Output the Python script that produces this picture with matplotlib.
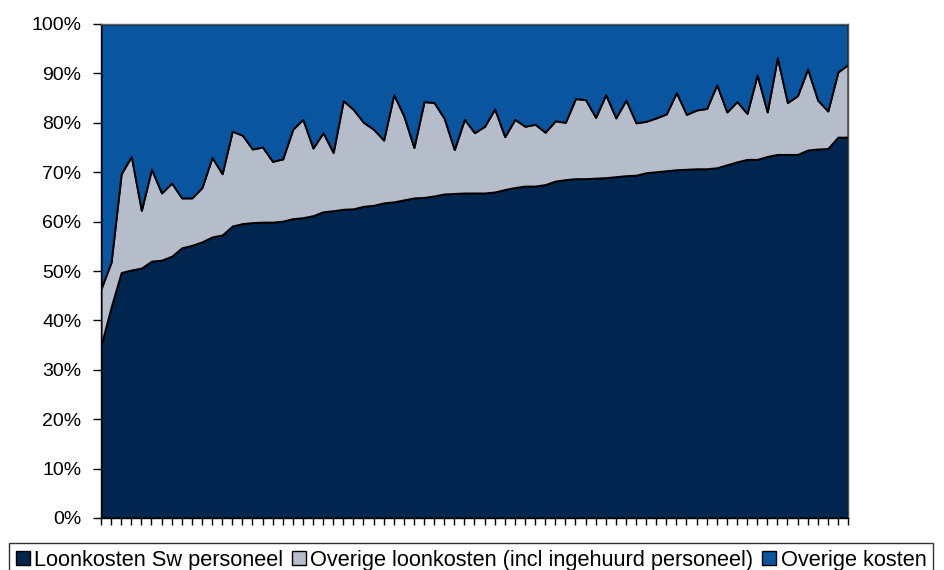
import matplotlib
matplotlib.use("Agg")
import matplotlib.pyplot as plt
import numpy as np
from matplotlib.ticker import FuncFormatter

plt.rcParams['font.family'] = ['Liberation Sans', 'DejaVu Sans']

series_names = ["Loonkosten Sw personeel",
                "Overige loonkosten (incl ingehuurd personeel)",
                "Overige kosten"]

loonkosten_sw = [34.9, 42.7, 49.7, 50.2, 50.6, 52.0, 52.2, 53.0, 54.7, 55.2,
                 55.9, 56.9, 57.3, 59.1, 59.6, 59.8, 59.9, 59.9, 60.1, 60.6,
                 60.8, 61.2, 62.0, 62.2, 62.5, 62.6, 63.1, 63.3, 63.8, 64.0,
                 64.4, 64.8, 64.9, 65.2, 65.6, 65.7, 65.8, 65.8, 65.8, 66.0,
                 66.5, 66.9, 67.2, 67.2, 67.5, 68.2, 68.5, 68.7, 68.7, 68.8,
                 68.9, 69.1, 69.3, 69.4, 69.9, 70.1, 70.3, 70.5, 70.6, 70.7,
                 70.7, 70.9, 71.5, 72.1, 72.6, 72.6, 73.2, 73.6, 73.6, 73.6,
                 74.5, 74.7, 74.8, 77.1, 77.1]

overige_loonkosten = [11.5, 9.1, 20.0, 23.0, 11.7, 18.6, 13.6, 14.8, 10.1, 9.6,
                      11.0, 16.1, 12.4, 19.2, 17.9, 14.9, 15.2, 12.3, 12.6, 18.1,
                      19.9, 13.7, 16.0, 11.8, 22.0, 20.1, 17.0, 15.4, 12.7, 21.7,
                      17.0, 10.2, 19.4, 18.9, 15.3, 8.9, 14.9, 12.2, 13.5, 16.8,
                      10.7, 13.8, 12.1, 12.5, 10.6, 12.2, 11.6, 16.2, 16.0, 12.3,
                      16.8, 11.9, 15.3, 10.6, 10.4, 10.9, 11.5, 15.6, 11.1, 11.9,
                      12.2, 16.8, 10.7, 12.2, 9.3, 17.1, 9.0, 19.6, 10.5, 11.9,
                      16.4, 9.9, 7.6, 13.2, 14.7]

overige_kosten = [53.6, 48.2, 30.3, 26.8, 37.7, 29.4, 34.2, 32.2, 35.2, 35.2,
                  33.1, 27.0, 30.3, 21.7, 22.5, 25.3, 24.9, 27.8, 27.3, 21.3,
                  19.3, 25.1, 22.0, 26.0, 15.5, 17.3, 19.9, 21.3, 23.5, 14.3,
                  18.6, 25.0, 15.7, 15.9, 19.1, 25.4, 19.3, 22.0, 20.7, 17.2,
                  22.8, 19.3, 20.7, 20.3, 21.9, 19.6, 19.9, 15.1, 15.3, 18.9,
                  14.3, 19.0, 15.4, 20.0, 19.7, 19.0, 18.2, 13.9, 18.3, 17.4,
                  17.1, 12.3, 17.8, 15.7, 18.1, 10.3, 17.8, 6.8, 15.9, 14.5,
                  9.1, 15.4, 17.6, 9.7, 8.2]

y_ticks = [0, 10, 20, 30, 40, 50, 60, 70, 80, 90, 100]
colors = ["#00264F", "#B5BDCB", "#0A55A0"]

W, H = 944, 570
fig = plt.figure(figsize=(W / 100, H / 100), dpi=100)
ax = fig.add_axes([101 / W, 1 - 518 / H, (848 - 101) / W, (518 - 24) / H])

x = np.arange(len(loonkosten_sw))
polys = ax.stackplot(x, loonkosten_sw, overige_loonkosten, overige_kosten,
                     colors=colors, edgecolor="black", linewidth=1.4,
                     labels=series_names)

ax.set_xlim(x[0], x[-1])
ax.set_ylim(0, 100)
ax.set_yticks(y_ticks)
ax.yaxis.set_major_formatter(FuncFormatter(lambda v, p: f"{int(v)}%"))
ax.set_xticks(x)
ax.set_xticklabels([])
ax.tick_params(axis="y", direction="out", length=6, width=1, labelsize=14,
               pad=8, colors="black")
ax.tick_params(axis="x", direction="out", length=5, width=1, colors="black")
for s in ax.spines.values():
    s.set_color("black")
    s.set_linewidth(1)
ax.spines["top"].set_color("#606060")
ax.spines["right"].set_color("#505050")

leg = fig.legend(loc="upper left", bbox_to_anchor=(9 / W, 1 - 543 / H),
                 bbox_transform=fig.transFigure, ncol=3, fontsize=15.7,
                 frameon=True, fancybox=False, edgecolor="black",
                 borderaxespad=0, borderpad=0.3, handlelength=0.65,
                 handleheight=0.65, handletextpad=0.2, columnspacing=0.4)
leg.get_frame().set_linewidth(1)
for h in leg.legend_handles:
    h.set_edgecolor("black")
    h.set_linewidth(1)

fig.savefig("out.png", dpi=100)
